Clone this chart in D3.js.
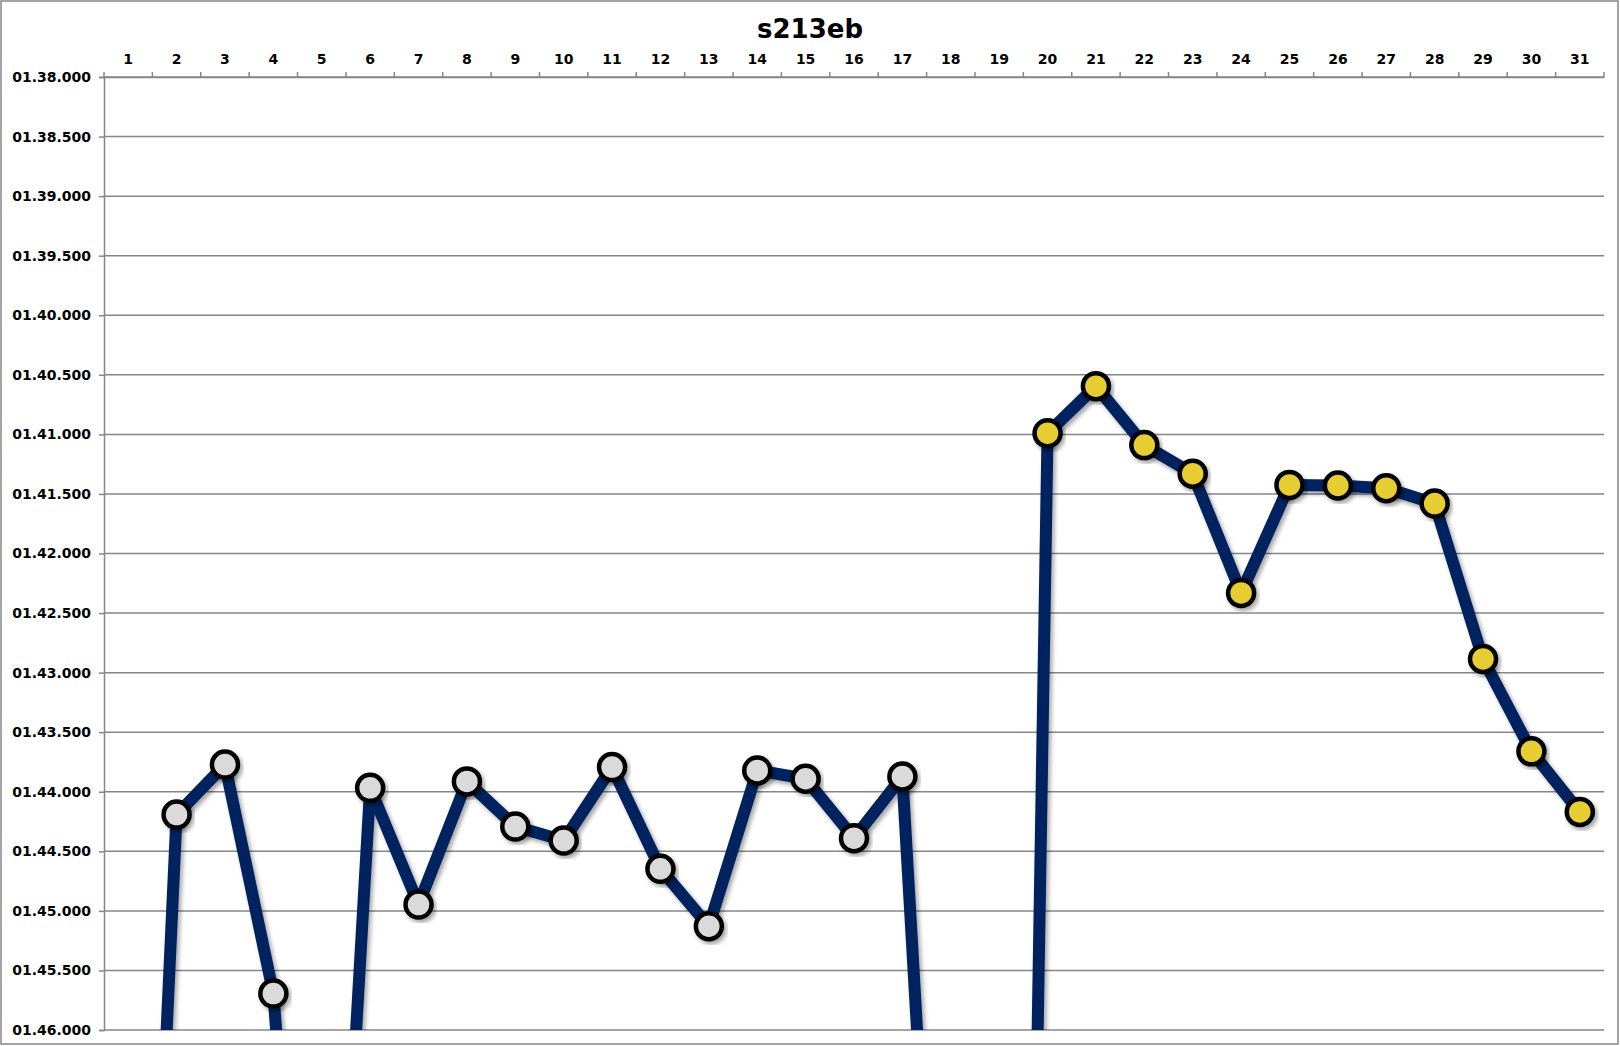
<!DOCTYPE html>
<html>
<head>
<meta charset="utf-8">
<script src="https://cdn.jsdelivr.net/npm/d3@7"></script>
<style>
  html, body { margin: 0; padding: 0; background: #fff; }
  svg { display: block; }
  text { font-family: "DejaVu Sans", Verdana, sans-serif; font-weight: bold; fill: #000; }
</style>
</head>
<body>
<svg id="chart" width="1620" height="1046"></svg>
<script>
// ---- data (lap times in seconds) ----
const title = "s213eb";
const laps = d3.range(1, 32);
const lapTimes = [
  113.0, 104.192, 103.772, 105.694, 111.0, 103.967, 104.947, 103.913, 104.292, 104.410,
  103.793, 104.647, 105.129, 103.821, 103.891, 104.390, 103.872, 110.9, 125.5, 100.99,
  100.595, 101.090, 101.330, 102.331, 101.424, 101.429, 101.452, 101.581, 102.885, 103.661,
  104.169
];
const stints = [
  1,1,1,1,1,1,1,1,1,1,1,1,1,1,1,1,1,1,1,
  2,2,2,2,2,2,2,2,2,2,2,2
];
const yTicks = d3.range(98, 106.0001, 0.5);

// ---- layout ----
const W = 1620, H = 1046;
const plot = { left: 104, right: 1604, top: 77, bottom: 1030 };

const svg = d3.select("#chart");

const defs = svg.append("defs");
defs.append("clipPath").attr("id", "plotClip")
  .append("rect")
  .attr("x", plot.left).attr("y", plot.top)
  .attr("width", plot.right - plot.left).attr("height", plot.bottom - plot.top);
const f = defs.append("filter").attr("id", "shadow")
  .attr("x", "-20%").attr("y", "-20%").attr("width", "140%").attr("height", "140%");
f.append("feDropShadow").attr("dx", 2.5).attr("dy", 3).attr("stdDeviation", 2)
  .attr("flood-color", "#000").attr("flood-opacity", 0.35);

// outer border
svg.append("rect").attr("x", 1).attr("y", 1).attr("width", W - 3).attr("height", H - 3)
  .attr("fill", "#fff").attr("stroke", "#868686").attr("stroke-width", 1.5);

const x = d3.scaleBand().domain(laps).range([plot.left, plot.right]).padding(0);
const y = d3.scaleLinear().domain([98, 106]).range([plot.top, plot.bottom]);

function fmt(v) {
  const totalMs = Math.round(v * 1000);
  const m = Math.floor(totalMs / 60000);
  const s = Math.floor((totalMs % 60000) / 1000);
  const ms = totalMs % 1000;
  return String(m).padStart(2, "0") + "." + String(s).padStart(2, "0") + "." + String(ms).padStart(3, "0");
}

// gridlines
svg.append("g").selectAll("line").data(yTicks).join("line")
  .attr("x1", plot.left).attr("x2", plot.right)
  .attr("y1", d => y(d)).attr("y2", d => y(d))
  .attr("stroke", "#868686").attr("stroke-width", 1.5);

// left axis
const yAxis = d3.axisLeft(y).tickValues(yTicks).tickFormat(fmt).tickSize(5).tickPadding(8);
const gy = svg.append("g").attr("transform", `translate(${plot.left},0)`).call(yAxis);
gy.select(".domain").attr("stroke", "#868686").attr("stroke-width", 1.5);
gy.selectAll(".tick line").attr("stroke", "#868686").attr("stroke-width", 1.5);
gy.selectAll(".tick text").style("font-size", "14px").style("font-family", "DejaVu Sans").style("font-weight", "bold").attr("fill", "#000");

// top axis (labels at centers, ticks at category boundaries)
const xAxis = d3.axisTop(x).tickSize(0).tickPadding(13);
const gx = svg.append("g").attr("transform", `translate(0,${plot.top})`).call(xAxis);
gx.select(".domain").attr("stroke", "#868686").attr("stroke-width", 1.5);
gx.selectAll(".tick text").style("font-size", "14px").style("font-family", "DejaVu Sans").style("font-weight", "bold").attr("fill", "#000");
const bounds = laps.map(d => x(d)).concat([x(laps[laps.length - 1]) + x.bandwidth()]);
gx.selectAll(".bound").data(bounds).join("line").attr("class", "bound")
  .attr("x1", d => d).attr("x2", d => d).attr("y1", 0).attr("y2", -5)
  .attr("stroke", "#868686").attr("stroke-width", 1.5);

// title
svg.append("text").attr("x", W / 2).attr("y", 38).attr("text-anchor", "middle")
  .style("font-size", "26px").text(title);

// series
const pts = laps.map((d, i) => ({ lap: d, t: lapTimes[i], stint: stints[i] }));
const cx = d => x(d.lap) + x.bandwidth() / 2;
const fills = { 1: "#dadada", 2: "#e6cd33" };

const g = svg.append("g").attr("clip-path", "url(#plotClip)");
g.append("path").datum(pts)
  .attr("d", d3.line().x(cx).y(d => y(d.t)))
  .attr("fill", "none").attr("stroke", "#02215f").attr("stroke-width", 12)
  .attr("stroke-linejoin", "round")
  .attr("filter", "url(#shadow)");
g.append("g").selectAll("circle").data(pts).join("circle")
  .attr("cx", cx).attr("cy", d => y(d.t)).attr("r", 13)
  .attr("fill", d => fills[d.stint]).attr("stroke", "#000").attr("stroke-width", 4.5)
  .attr("filter", "url(#shadow)");
</script>
</body>
</html>
